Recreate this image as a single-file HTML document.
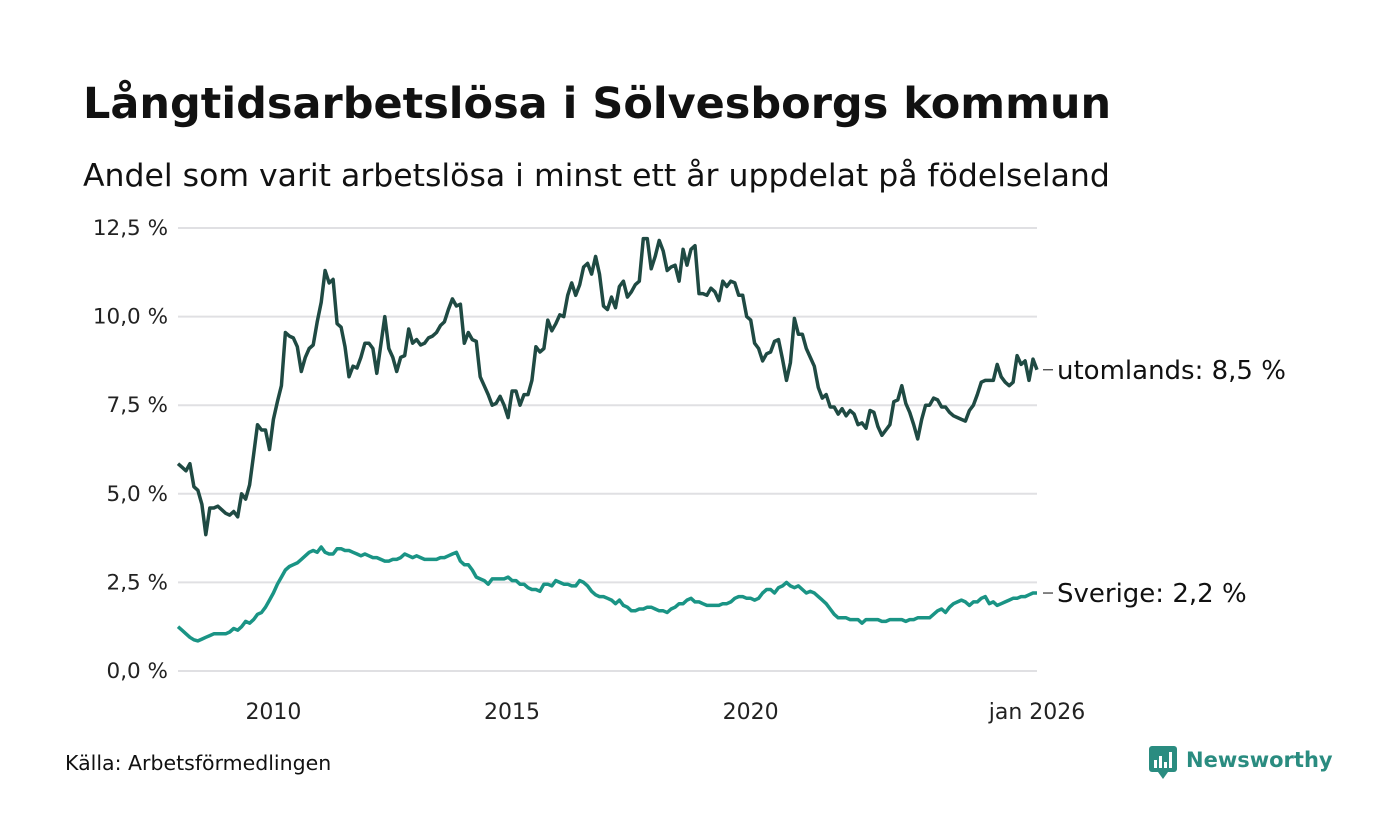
<!DOCTYPE html>
<html><head><meta charset="utf-8"><style>
body{margin:0;background:#fff;font-family:"Liberation Sans","DejaVu Sans",sans-serif;}
#wrap{position:relative;width:1400px;height:840px;overflow:hidden;}
</style></head><body>
<div id="wrap">
<svg id="chart" width="1400" height="840" font-family="'DejaVu Sans','Liberation Sans',sans-serif">
<text x="83" y="118" font-size="43" font-weight="bold" fill="#111">Långtidsarbetslösa i Sölvesborgs kommun</text>
<text x="83" y="186" font-size="31.5" fill="#111">Andel som varit arbetslösa i minst ett år uppdelat på födelseland</text>
<g id="grid"></g><g id="yt"></g><g id="xt"></g><g id="lines"></g><g id="labels"></g>
<text x="65" y="770" font-size="20.5" fill="#111">Källa: Arbetsförmedlingen</text>
<g>
<rect x="1149" y="746" width="28" height="26" rx="3" fill="#2a8c80"/>
<path d="M1158 772 L1163 779 L1168 772 Z" fill="#2a8c80"/>
<rect x="1154" y="760" width="3" height="8" fill="#fff"/><rect x="1159" y="756" width="3" height="12" fill="#fff"/><rect x="1164" y="762" width="3" height="6" fill="#fff"/><rect x="1169" y="752" width="3" height="16" fill="#fff"/>
<text x="1186" y="767" font-size="21" font-weight="bold" fill="#2a8c80">Newsworthy</text>
</g>
</svg>
</div>
<script>
const startYear = 2008;
const yTicks = [0, 2.5, 5, 7.5, 10, 12.5];
const yTickLabels = ["0,0 %","2,5 %","5,0 %","7,5 %","10,0 %","12,5 %"];
const xTickYears = [2010, 2015, 2020];
const lastLabel = "jan 2026";
const utomlands = [
5.85,5.75,5.65,5.85,5.2,5.1,4.7,3.85,4.6,4.6,4.65,4.55,
4.45,4.4,4.5,4.35,5.0,4.85,5.25,6.1,6.95,6.8,6.8,6.25,
7.1,7.6,8.05,9.55,9.45,9.4,9.15,8.45,8.85,9.1,9.2,9.85,
10.4,11.3,10.95,11.05,9.8,9.7,9.15,8.3,8.6,8.55,8.85,9.25,
9.25,9.1,8.4,9.2,10.0,9.1,8.85,8.45,8.85,8.9,9.65,9.25,
9.35,9.2,9.25,9.4,9.45,9.55,9.75,9.85,10.2,10.5,10.3,10.35,
9.25,9.55,9.35,9.3,8.3,8.05,7.8,7.5,7.55,7.75,7.5,7.15,
7.9,7.9,7.5,7.8,7.8,8.2,9.15,9.0,9.1,9.9,9.6,9.8,
10.05,10.0,10.6,10.95,10.6,10.9,11.4,11.5,11.2,11.7,11.2,10.3,
10.2,10.55,10.25,10.85,11.0,10.55,10.7,10.9,11.0,12.2,12.2,11.35,
11.7,12.15,11.85,11.3,11.4,11.45,11.0,11.9,11.45,11.9,12.0,10.65,
10.65,10.6,10.8,10.7,10.45,11.0,10.85,11.0,10.95,10.6,10.6,10.0,
9.9,9.25,9.1,8.75,8.95,9.0,9.3,9.35,8.8,8.2,8.7,9.95,
9.5,9.5,9.1,8.85,8.6,8.0,7.7,7.8,7.45,7.45,7.25,7.4,
7.2,7.35,7.25,6.95,7.0,6.85,7.35,7.3,6.9,6.65,6.8,6.95,
7.6,7.65,8.05,7.55,7.3,6.95,6.55,7.1,7.5,7.5,7.7,7.65,
7.45,7.45,7.3,7.2,7.15,7.1,7.05,7.35,7.5,7.8,8.15,8.2,
8.2,8.2,8.65,8.3,8.15,8.05,8.15,8.9,8.65,8.75,8.2,8.8,
8.5];
const sverige = [
1.25,1.15,1.05,0.95,0.88,0.85,0.9,0.95,1.0,1.05,1.05,1.05,
1.05,1.1,1.2,1.15,1.25,1.4,1.35,1.45,1.6,1.65,1.8,2.0,
2.2,2.45,2.65,2.85,2.95,3.0,3.05,3.15,3.25,3.35,3.4,3.35,
3.5,3.35,3.3,3.3,3.45,3.45,3.4,3.4,3.35,3.3,3.25,3.3,
3.25,3.2,3.2,3.15,3.1,3.1,3.15,3.15,3.2,3.3,3.25,3.2,
3.25,3.2,3.15,3.15,3.15,3.15,3.2,3.2,3.25,3.3,3.35,3.1,
3.0,3.0,2.85,2.65,2.6,2.55,2.45,2.6,2.6,2.6,2.6,2.65,
2.55,2.55,2.45,2.45,2.35,2.3,2.3,2.25,2.45,2.45,2.4,2.55,
2.5,2.45,2.45,2.4,2.4,2.55,2.5,2.4,2.25,2.15,2.1,2.1,
2.05,2.0,1.9,2.0,1.85,1.8,1.7,1.7,1.75,1.75,1.8,1.8,
1.75,1.7,1.7,1.65,1.75,1.8,1.9,1.9,2.0,2.05,1.95,1.95,
1.9,1.85,1.85,1.85,1.85,1.9,1.9,1.95,2.05,2.1,2.1,2.05,
2.05,2.0,2.05,2.2,2.3,2.3,2.2,2.35,2.4,2.5,2.4,2.35,
2.4,2.3,2.2,2.25,2.2,2.1,2.0,1.9,1.75,1.6,1.5,1.5,
1.5,1.45,1.45,1.45,1.35,1.45,1.45,1.45,1.45,1.4,1.4,1.45,
1.45,1.45,1.45,1.4,1.45,1.45,1.5,1.5,1.5,1.5,1.6,1.7,
1.75,1.65,1.8,1.9,1.95,2.0,1.95,1.85,1.95,1.95,2.05,2.1,
1.9,1.95,1.85,1.9,1.95,2.0,2.05,2.05,2.1,2.1,2.15,2.2,
2.2];
const seriesNames = ["utomlands","Sverige"];

const NS="http://www.w3.org/2000/svg";
const X0=178, X1=1037, Y0=671, Y1=228;
const n=utomlands.length;
function xs(i){return X0+(X1-X0)*i/(n-1);}
function ys(v){return Y0-(Y0-Y1)*v/12.5;}
function mk(tag,attrs,parent){const e=document.createElementNS(NS,tag);for(const k in attrs)e.setAttribute(k,attrs[k]);parent.appendChild(e);return e;}
const grid=document.getElementById('grid'),yt=document.getElementById('yt'),xt=document.getElementById('xt'),lines=document.getElementById('lines'),labels=document.getElementById('labels');
yTicks.forEach((v,i)=>{
 const l=mk('line',{x1:X0,x2:X1,y1:ys(v),y2:ys(v),stroke:'#e0e0e3','stroke-width':2},grid);
 
 
 const t=mk('text',{x:168,y:ys(v)+7,'text-anchor':'end','font-size':21.5,fill:'#222'},yt);
 t.textContent=yTickLabels[i];
 
 
});
xTickYears.forEach(yr=>{
 const t=mk('text',{x:xs((yr-startYear)*12),y:719,'text-anchor':'middle','font-size':22,fill:'#222'},xt);
 t.textContent=String(yr);
 
 
});
const tl=mk('text',{x:xs(n-1),y:719,'text-anchor':'middle','font-size':22,fill:'#222'},xt);
tl.textContent=lastLabel;


[[utomlands,'#1f4a43','utomlands-line'],[sverige,'#1a9485','sverige-line']].forEach(([d,c,name],k)=>{
 const p=mk('polyline',{points:d.map((v,i)=>xs(i).toFixed(1)+','+ys(v).toFixed(1)).join(' '),fill:'none',stroke:c,'stroke-width':3.5,'stroke-linejoin':'round'},lines);
 
 
 const last=d[d.length-1], y=ys(last);
 const ln=mk('line',{x1:X1+6,x2:X1+16,y1:y,y2:y,stroke:'#333','stroke-width':1.2},labels);
 
 
 const t=mk('text',{x:X1+20,y:y+9,'font-size':26,fill:'#111'},labels);
 t.textContent=seriesNames[k]+': '+last.toFixed(1).replace('.',',')+' %';
 
 
});
</script>
</body></html>
